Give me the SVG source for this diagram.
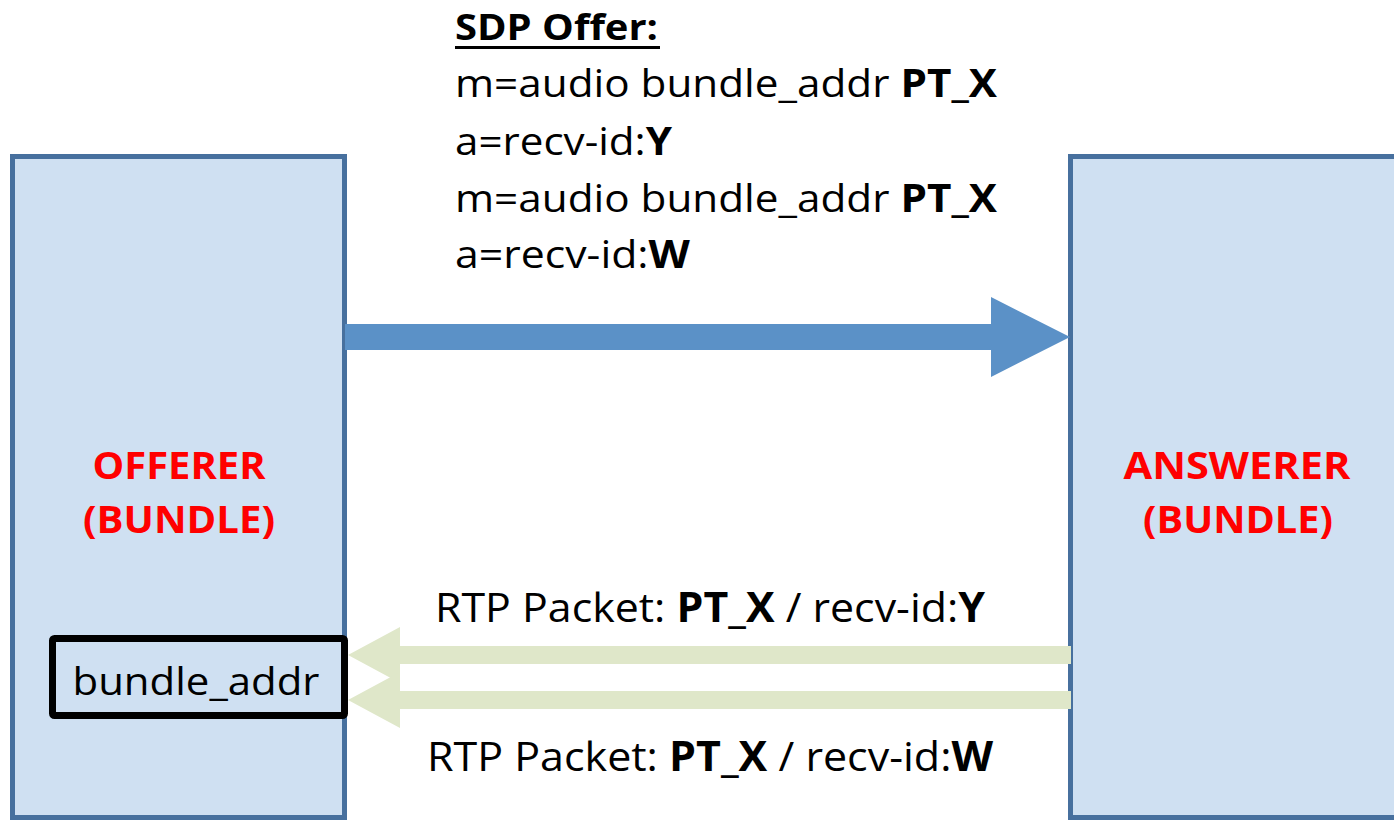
<svg xmlns="http://www.w3.org/2000/svg" width="1394" height="821" viewBox="0 0 1394 821">
  <style>
    .box { fill: #cfe0f2; stroke: #47709e; stroke-width: 5; }
    .t { font-family: "Open Sans", "Noto Sans", sans-serif; fill: #000; }
    .b { font-weight: bold; }
    .red { font-family: "Open Sans", "Noto Sans", sans-serif; font-weight: bold; fill: #ff0000; font-size: 38px; text-anchor: middle; }
    .sdp { font-size: 39px; }
    .rtp { font-size: 41px; }
    .blue { fill: #5b91c7; }
    .green { fill: #dfe7c9; }
  </style>
  <rect width="1394" height="821" fill="#ffffff"/>

  <g id="offerer">
    <rect class="box" x="12.5" y="156.5" width="332" height="661"/>
    <text class="red" x="179" y="479" textLength="173" lengthAdjust="spacingAndGlyphs">OFFERER</text>
    <text class="red" x="179" y="533" textLength="192" lengthAdjust="spacingAndGlyphs">(BUNDLE)</text>
  </g>

  <g id="answerer">
    <rect class="box" x="1070.5" y="156.5" width="340" height="661"/>
    <text class="red" x="1237" y="479" textLength="227" lengthAdjust="spacingAndGlyphs">ANSWERER</text>
    <text class="red" x="1238" y="533" textLength="190" lengthAdjust="spacingAndGlyphs">(BUNDLE)</text>
  </g>

  <g id="connectors">
    <polygon class="blue" points="345,324 991,324 991,297 1070,337 991,377 991,350 345,350"/>
    <polygon class="green" points="1071,646 400,646 400,627 348,655 400,683 400,664 1071,664"/>
    <polygon class="green" points="1071,691 400,691 400,672 348,700 400,728 400,709 1071,709"/>
  </g>

  <g id="bundle_addr">
    <rect x="52.5" y="638.5" width="292" height="77" fill="#cfe0f2" stroke="#000" stroke-width="7" rx="2"/>
    <text class="t" x="196" y="695" font-size="38" text-anchor="middle" textLength="247" lengthAdjust="spacingAndGlyphs">bundle_addr</text>
  </g>

  <g id="sdp-offer">
    <text class="t b" x="455" y="40" font-size="36" textLength="203" lengthAdjust="spacingAndGlyphs">SDP Offer:</text>
    <rect x="455" y="46" width="205" height="3" fill="#000"/>
    <text class="t sdp" x="455" y="97" textLength="542" lengthAdjust="spacingAndGlyphs">m=audio bundle_addr <tspan class="b">PT_X</tspan></text>
    <text class="t sdp" x="455" y="155" textLength="217" lengthAdjust="spacingAndGlyphs">a=recv-id:<tspan class="b">Y</tspan></text>
    <text class="t sdp" x="455" y="212" textLength="542" lengthAdjust="spacingAndGlyphs">m=audio bundle_addr <tspan class="b">PT_X</tspan></text>
    <text class="t sdp" x="455" y="268" textLength="235" lengthAdjust="spacingAndGlyphs">a=recv-id:<tspan class="b">W</tspan></text>
  </g>

  <g id="rtp-labels">
    <text class="t rtp" x="435" y="622" textLength="550" lengthAdjust="spacingAndGlyphs">RTP Packet: <tspan class="b">PT_X</tspan> / recv-id:<tspan class="b">Y</tspan></text>
    <text class="t rtp" x="427" y="771" textLength="566" lengthAdjust="spacingAndGlyphs">RTP Packet: <tspan class="b">PT_X</tspan> / recv-id:<tspan class="b">W</tspan></text>
  </g>
</svg>
